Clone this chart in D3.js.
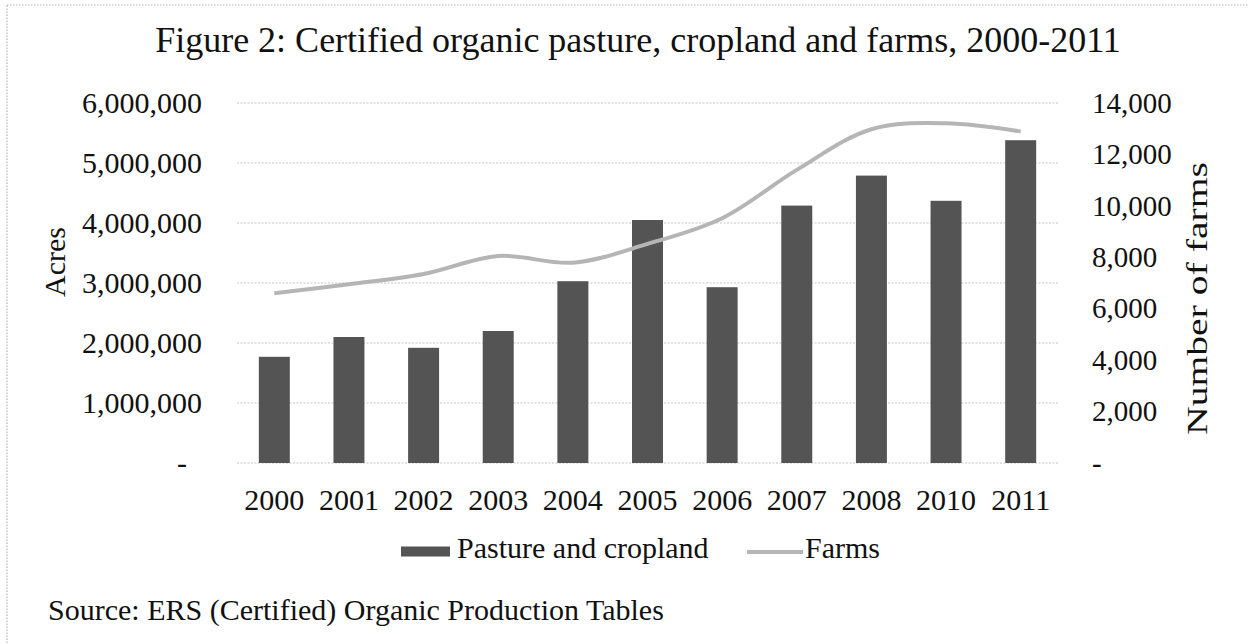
<!DOCTYPE html>
<html><head><meta charset="utf-8">
<script src="https://cdn.jsdelivr.net/npm/d3@7"></script>
<style>
html,body{margin:0;padding:0;background:#fff;}
svg{display:block;font-family:"Liberation Serif","Times New Roman",serif;}
</style></head>
<body>
<svg id="chart" width="1248" height="644"></svg>
<script>
const years = ["2000","2001","2002","2003","2004","2005","2006","2007","2008","2010","2011"];
const acres = [1770000, 2100000, 1920000, 2200000, 3030000, 4050000, 2930000, 4290000, 4790000, 4370000, 5380000];
const farms = [6600, 6950, 7350, 8050, 7790, 8520, 9520, 11400, 12980, 13210, 12890];
const leftTicks = [0, 1000000, 2000000, 3000000, 4000000, 5000000, 6000000];
const rightTicks = [0, 2000, 4000, 6000, 8000, 10000, 12000, 14000];
const titleText = "Figure 2: Certified organic pasture, cropland and farms, 2000-2011";
const sourceText = "Source: ERS (Certified) Organic Production Tables";
const seriesNames = ["Pasture and cropland", "Farms"];

const svg = d3.select("#chart");
const W = 1248, H = 644;
const plot = {left: 237, right: 1058, top: 103, bottom: 463};
const barColor = "#545454", lineColor = "#b5b5b5";

// frame
svg.append("rect").attr("x", 7).attr("y", 5).attr("width", W + 10).attr("height", H + 10)
  .attr("fill", "none").attr("stroke", "#b5b5b5").attr("stroke-width", 1.2).attr("stroke-dasharray", "1.5,1.5");

const x = d3.scaleBand().domain(years).range([plot.left, plot.right]).paddingInner(0.585).paddingOuter(0.2925);
const yL = d3.scaleLinear().domain([0, 6000000]).range([plot.bottom, plot.top]);
const yR = d3.scaleLinear().domain([0, 14000]).range([plot.bottom, plot.top]);

// gridlines
svg.append("g").selectAll("line").data(leftTicks).join("line")
  .attr("x1", plot.left).attr("x2", plot.right)
  .attr("y1", d => yL(d)).attr("y2", d => yL(d))
  .attr("stroke", "#c4c4c4").attr("stroke-width", 1).attr("stroke-dasharray", "2,1.5");

const fmt = d3.format(",");
function styleText(sel, size) {
  sel.style("font-family", '"Liberation Serif", serif').style("font-size", size + "px").attr("fill", "#111");
}

// left axis
const gL = svg.append("g").attr("transform", `translate(${plot.left - 35},0)`)
  .call(d3.axisLeft(yL).tickValues(leftTicks).tickSize(0).tickPadding(0).tickFormat(d => d === 0 ? "-" : fmt(d)));
gL.select(".domain").remove();
styleText(gL.selectAll("text"), 30);
gL.selectAll("text").attr("dx", d => d === 0 ? -15 : 0);

// right axis
const gR = svg.append("g").attr("transform", `translate(${plot.right + 34},0)`)
  .call(d3.axisRight(yR).tickValues(rightTicks).tickSize(0).tickPadding(0).tickFormat(d => d === 0 ? "-" : fmt(d)));
gR.select(".domain").remove();
styleText(gR.selectAll("text"), 29);

// x axis
const gX = svg.append("g").attr("transform", `translate(0,${plot.bottom})`)
  .call(d3.axisBottom(x).tickSize(0).tickPadding(0));
gX.select(".domain").remove();
styleText(gX.selectAll("text"), 30);
gX.selectAll("text").attr("dy", 0).attr("y", 47);

// bars
svg.append("g").selectAll("rect").data(years).join("rect")
  .attr("x", d => x(d)).attr("width", x.bandwidth())
  .attr("y", (d, i) => yL(acres[i])).attr("height", (d, i) => yL(0) - yL(acres[i]))
  .attr("fill", barColor);

// line
const line = d3.line()
  .x((d, i) => x(years[i]) + x.bandwidth() / 2)
  .y(d => yR(d))
  .curve(d3.curveCatmullRom.alpha(0.5));
svg.append("path").datum(farms).attr("d", line)
  .attr("fill", "none").attr("stroke", lineColor).attr("stroke-width", 4).attr("stroke-linejoin", "round");

// title
const title = svg.append("text").attr("x", 638).attr("y", 52).attr("text-anchor", "middle").text(titleText);
styleText(title, 36);

// axis titles
const acresT = svg.append("text").attr("transform", "translate(65,262) rotate(-90)").attr("text-anchor", "middle").text("Acres");
styleText(acresT, 30);
const farmsT = svg.append("text").attr("transform", "translate(1207,298.5) rotate(-90)").attr("text-anchor", "middle")
  .attr("textLength", 273).attr("lengthAdjust", "spacingAndGlyphs").text("Number of farms");
styleText(farmsT, 30);

// legend
const leg = svg.append("g");
leg.append("rect").attr("x", 401).attr("y", 546.5).attr("width", 49).attr("height", 10).attr("fill", barColor);
styleText(leg.append("text").attr("x", 457).attr("y", 558).text(seriesNames[0]), 30);
leg.append("line").attr("x1", 747).attr("x2", 803).attr("y1", 552).attr("y2", 552)
  .attr("stroke", lineColor).attr("stroke-width", 4);
styleText(leg.append("text").attr("x", 805).attr("y", 558).text(seriesNames[1]), 30);

// source
styleText(svg.append("text").attr("x", 48).attr("y", 620).text(sourceText), 30);
</script>
</body></html>
